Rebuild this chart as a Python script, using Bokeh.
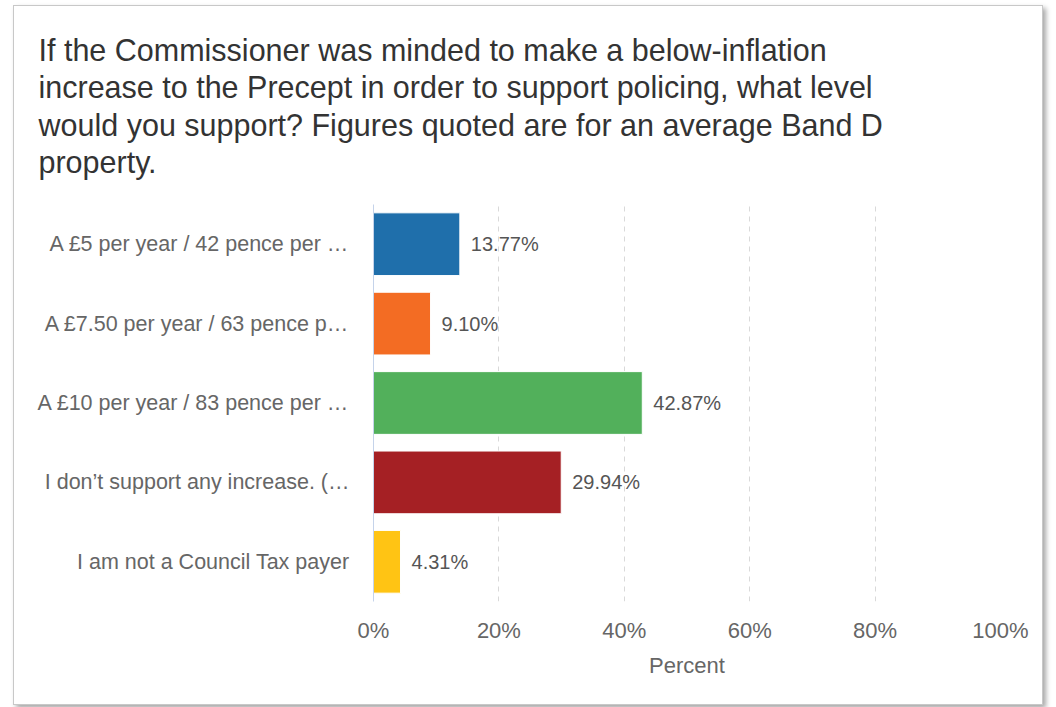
from bokeh.plotting import figure
from bokeh.models import FactorRange, FixedTicker, PrintfTickFormatter, Title, ColumnDataSource
from bokeh.core.properties import value
from bokeh.embed import file_html
from bokeh.resources import INLINE

title_lines = [
    "If the Commissioner was minded to make a below-inflation",
    "increase to the Precept in order to support policing, what level",
    "would you support?  Figures quoted are for an average Band D",
    "property.",
]
categories = [
    "A \u00a35 per year / 42 pence per \u2026",
    "A \u00a37.50 per year / 63 pence p\u2026",
    "A \u00a310 per year / 83 pence per \u2026",
    "I don\u2019t support any increase. (\u2026",
    "I am not a Council Tax payer",
]
percents = [13.77, 9.10, 42.87, 29.94, 4.31]
colors = ["#1f6fab", "#f36c23", "#52b05b", "#a52024", "#ffc414"]
x_ticks = [0, 20, 40, 60, 80, 100]
x_label = "Percent"

FONT = "Liberation Sans"

src = ColumnDataSource(dict(
    cat=categories,
    pct=percents,
    color=colors,
    label=["%.2f%%" % v for v in percents],
))

p = figure(
    width=1030, height=700,
    y_range=FactorRange(*reversed(categories)),
    x_range=(0, 100),
    output_backend="svg", toolbar_location=None,
    min_border_left=359, min_border_right=44, min_border_bottom=105, min_border_top=198,
)
p.styles = {"border": "1px solid #c8c8c8", "box-shadow": "3px 3px 5px rgba(0,0,0,0.35)",
            "margin-left": "13px", "margin-top": "5px"}
p.outline_line_color = None
p.background_fill_color = "white"
p.border_fill_color = "white"

p.hbar(y="cat", right="pct", left=0, height=0.79, color="color", line_color="white", line_width=1, source=src)
p.text(x="pct", y="cat", text="label", x_offset=11, text_baseline="middle", text_align="left",
       text_font=value(FONT), text_font_size="20px", text_color="#555555", source=src)

t = Title(text="\n".join(title_lines), align="left", offset=-335, standoff=47,
          vertical_align="top",
          text_font=FONT, text_font_size="30.5px", text_font_style="normal",
          text_color="#333333", text_line_height=1.1)
p.title = t

p.xaxis.ticker = FixedTicker(ticks=x_ticks)
p.xaxis.formatter = PrintfTickFormatter(format="%d%%")
p.xaxis.axis_line_color = None
p.xaxis.major_tick_line_color = None
p.xaxis.minor_tick_line_color = None
p.xaxis.major_label_text_font = FONT
p.xaxis.major_label_text_font_size = "22px"
p.xaxis.major_label_text_color = "#666666"
p.xaxis.major_label_standoff = 10
p.xaxis.axis_label = x_label
p.xaxis.axis_label_text_font = FONT
p.xaxis.axis_label_text_font_size = "22px"
p.xaxis.axis_label_text_font_style = "normal"
p.xaxis.axis_label_text_color = "#666666"
p.xaxis.axis_label_standoff = 7

p.yaxis.axis_line_color = "#c5d3ea"
p.yaxis.axis_line_width = 1
p.yaxis.major_tick_line_color = None
p.yaxis.minor_tick_line_color = None
p.yaxis.major_label_text_font = FONT
p.yaxis.major_label_text_font_size = "21.5px"
p.yaxis.major_label_text_color = "#666666"
p.yaxis.major_label_standoff = 18

p.ygrid.grid_line_color = None
p.xgrid.ticker = FixedTicker(ticks=x_ticks[1:])
p.xgrid.grid_line_color = "#d9d9d9"
p.xgrid.grid_line_dash = "5 5"
p.xgrid.grid_line_width = 1

open("out.html", "w").write(file_html(p, INLINE))
